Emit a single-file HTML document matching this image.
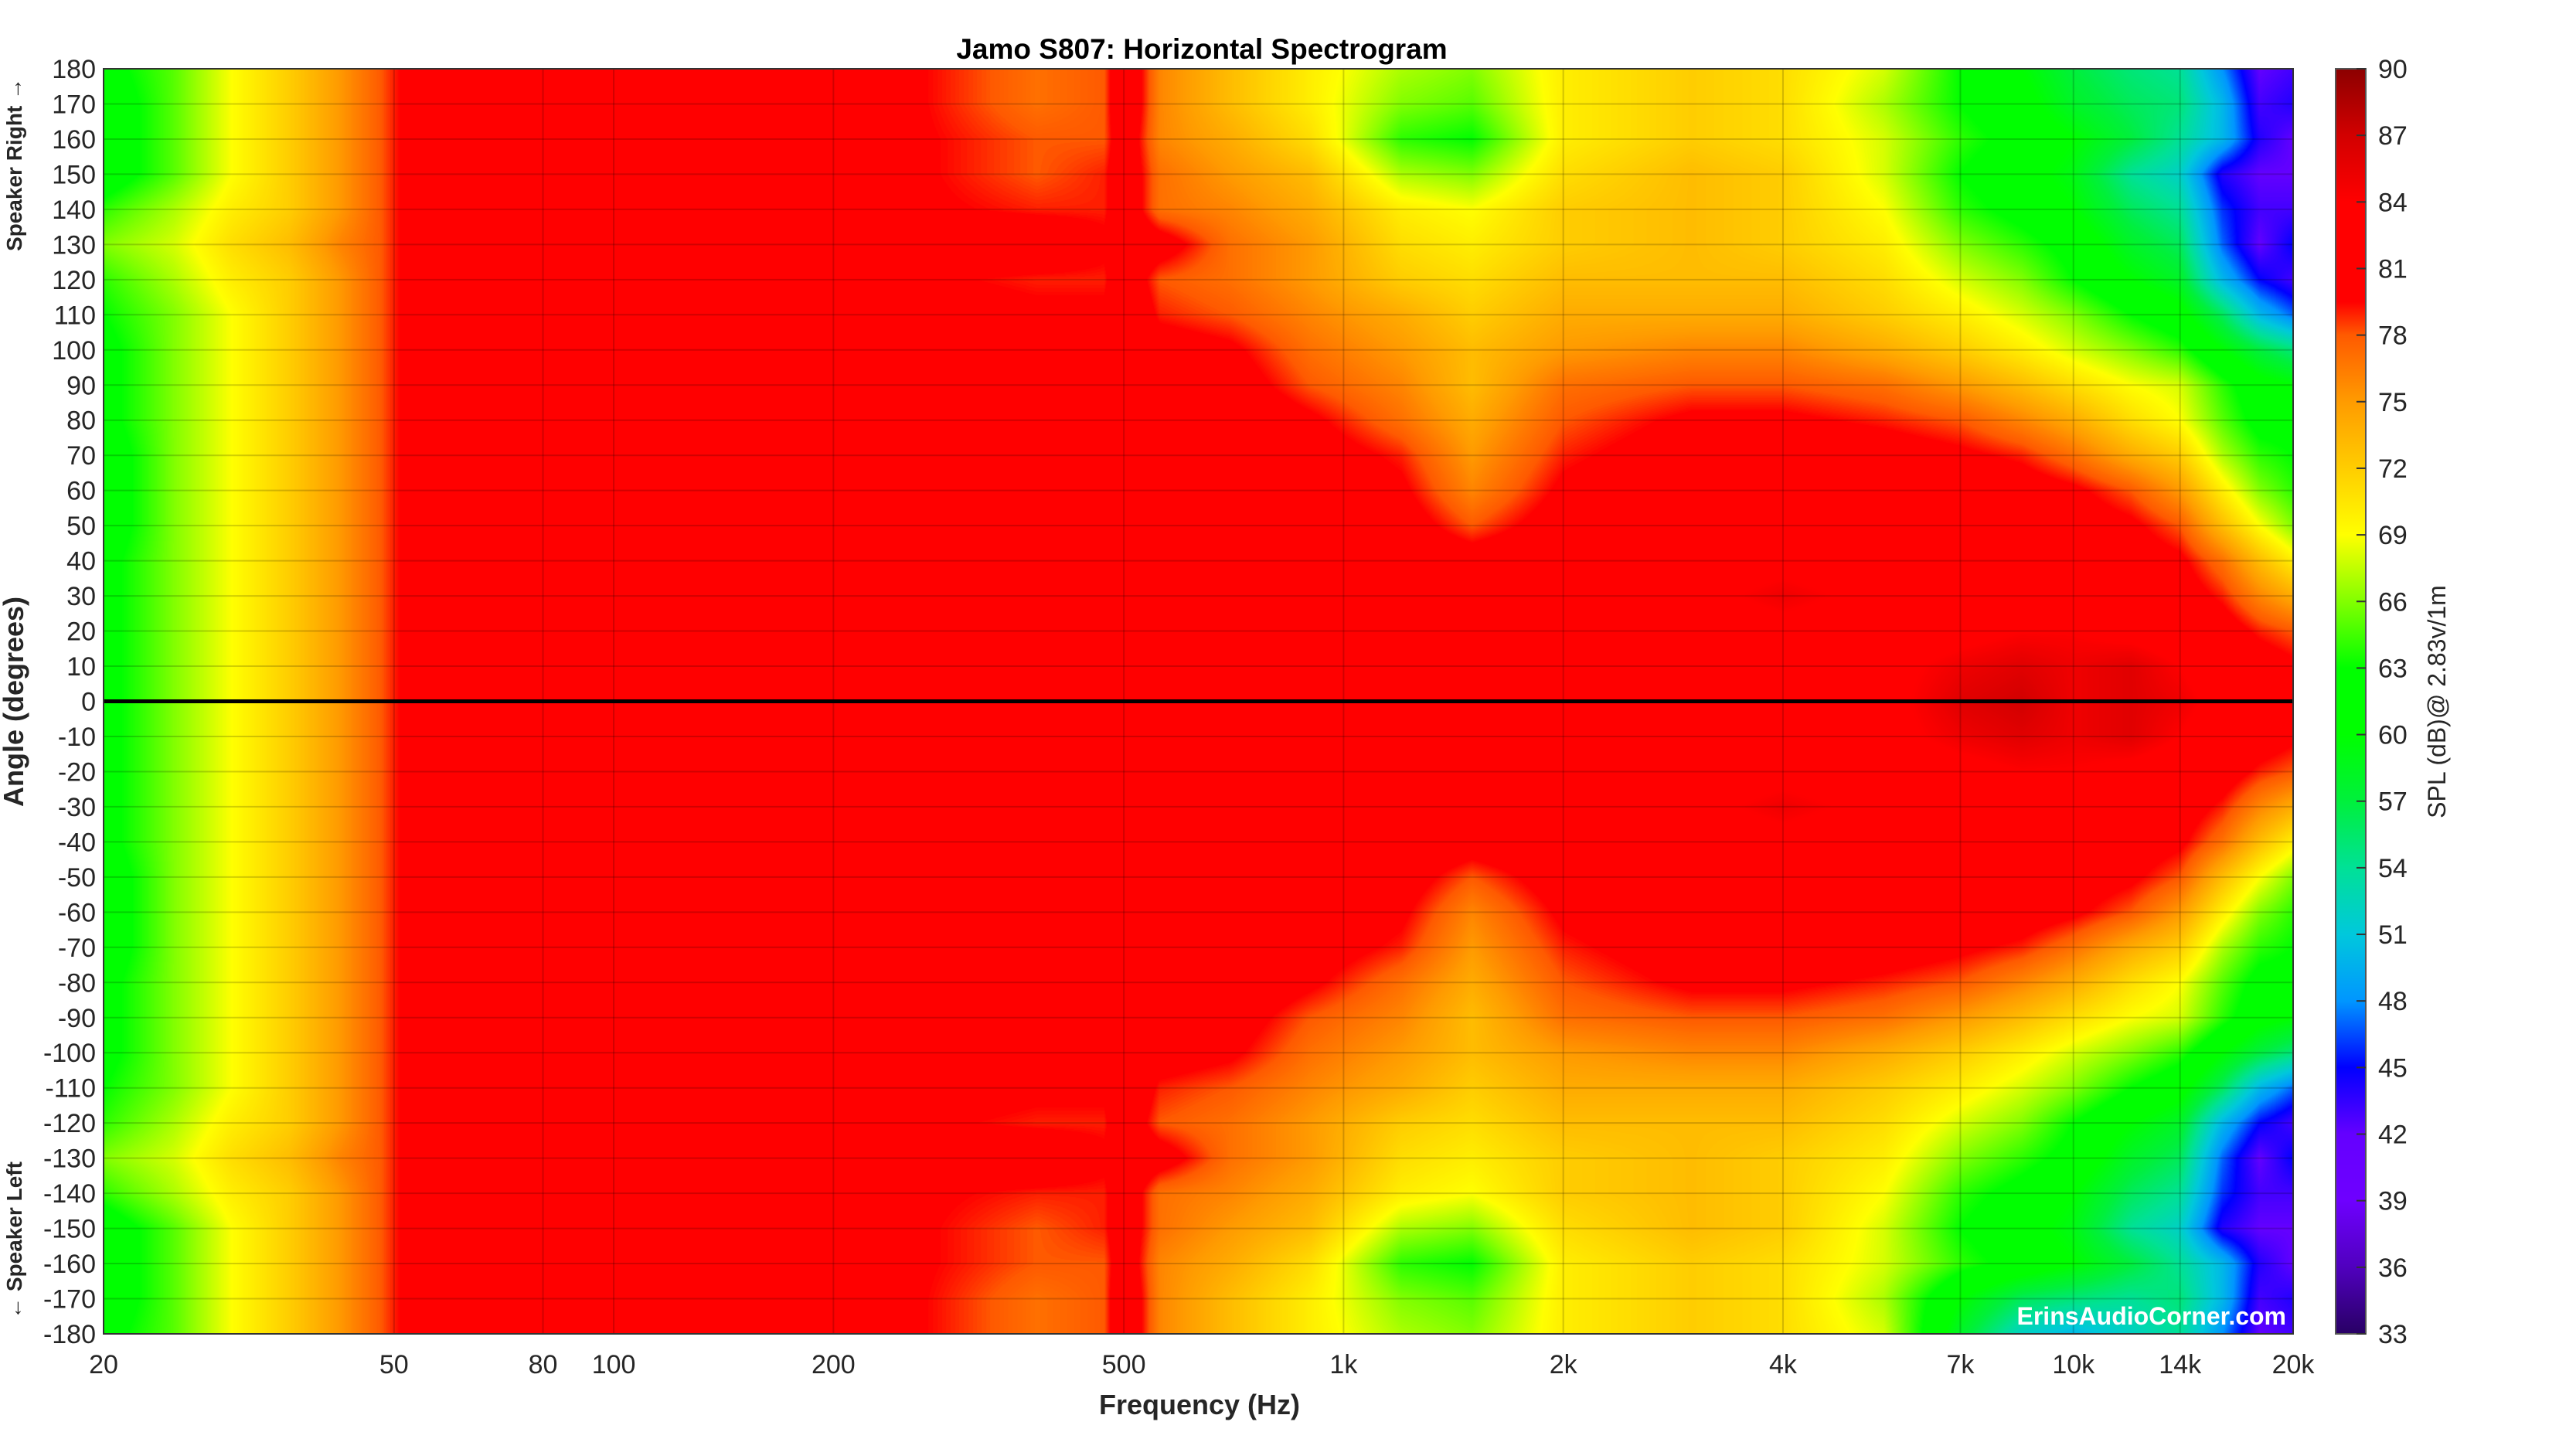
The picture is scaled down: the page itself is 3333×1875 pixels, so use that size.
<!DOCTYPE html>
<html><head><meta charset="utf-8"><style>
html,body{margin:0;padding:0;background:#fff;}
#wrap{position:relative;width:3333px;height:1875px;overflow:hidden;font-family:"Liberation Sans",sans-serif;}
#heat{position:absolute;left:134px;top:89px;}
#ov{position:absolute;left:0;top:0;}
</style></head><body>
<div id="wrap">
<canvas id="heat" width="2833" height="1637"></canvas>
<svg id="ov" width="3333" height="1875">
<defs><linearGradient id="cbg" x1="0" y1="1" x2="0" y2="0"></linearGradient></defs>
<g id="grid"></g>
<line id="zero" stroke="#000" stroke-width="5"/>
<rect x="134" y="89" width="2833" height="1637" fill="none" stroke="#333" stroke-width="2"/>
<text x="1555" y="76" text-anchor="middle" font-size="37" font-weight="bold">Jamo S807: Horizontal Spectrogram</text>
<g id="yt" font-size="34" fill="#262626" text-anchor="end"></g>
<g id="xt" font-size="34" fill="#262626" text-anchor="middle"></g>
<text x="1552" y="1830" text-anchor="middle" font-size="36" font-weight="bold" fill="#262626">Frequency (Hz)</text>
<text transform="translate(30,908) rotate(-90)" text-anchor="middle" font-size="36" font-weight="bold" fill="#262626">Angle (degrees)</text>
<text transform="translate(28,213) rotate(-90)" text-anchor="middle" font-size="28" font-weight="bold" fill="#262626">Speaker Right →</text>
<text transform="translate(28,1605) rotate(-90)" text-anchor="middle" font-size="28" font-weight="bold" fill="#262626">← Speaker Left</text>
<text x="2958" y="1714" text-anchor="end" font-size="32" font-weight="bold" fill="#fff">ErinsAudioCorner.com</text>
<rect x="3022" y="89" width="39" height="1637" fill="url(#cbg)" stroke="#555" stroke-width="2"/>
<g id="ct" font-size="34" fill="#262626"></g>
<text transform="translate(3164,908) rotate(-90)" text-anchor="middle" font-size="32" fill="#262626">SPL (dB)@ 2.83v/1m</text>
</svg>
</div>
<script>
const freqs=[20,25,30,36,42,48,52,60,90,150,250,380,470,500,560,700,900,1200,1500,2000,3000,4000,5500,7000,8500,10000,12000,14000,16000,18000,20000];
const angles=[180,170,160,150,140,130,120,110,100,90,80,70,60,50,40,30,20,10,0,-10,-20,-30,-40,-50,-60,-70,-80,-90,-100,-110,-120,-130,-140,-150,-160,-170,-180];
const spl=[
[62,65,69,72,75,78,80,82,84,82,80,77,78,83,76,73,70,67,66,70,72,71,68,63,60,57,55,54,48,42,43],
[61,65,69,72,75,78,80,82,84,82,80,77,78,83,76,73,70,66,65,70,72,71,67,63,61,58,56,55,50,43,44],
[61,65,69,72,75,78,80,82,84,82,80,78,78,82,76,74,71,64,63,70,72,71,68,64,62,60,57,54,50,44,42],
[61,65,69,72,75,78,80,82,84,82,80,78,79,82,77,75,73,67,66,71,73,72,68,63,61,59,54,52,44,42,42],
[64,67,70,72,75,78,80,82,84,82,80,79,79,82,77,76,74,70,69,72,73,72,69,64,62,60,56,54,46,43,43],
[66,68,71,73,76,78,80,82,84,82,82,82,80,82,81,77,75,71,70,72,73,72,70,66,64,62,58,56,47,42,45],
[64,67,70,72,75,78,80,82,84,82,80,79,79,82,78,77,75,72,71,73,73,73,71,68,66,63,60,58,50,45,43],
[63,66,69,72,75,78,80,82,84,82,81,80,80,83,79,78,76,74,72,74,74,74,72,70,68,66,63,61,56,50,47],
[62,66,69,72,75,78,80,82,84,82,82,81,81,83,81,80,77,75,73,75,76,76,74,72,70,68,66,64,60,57,55],
[62,66,69,72,75,78,80,82,84,82,82,82,82,83,82,81,78,76,73,77,78,78,77,75,73,71,69,68,64,61,60],
[62,66,69,72,75,78,80,82,84,82,82,82,82,82,82,82,80,77,74,78,80,80,79,78,76,74,71,69,65,62,62],
[61,66,69,72,75,78,80,82,84,82,82,82,82,82,82,82,81,79,75,79,81,82,81,80,79,77,74,72,67,64,63],
[61,66,69,72,75,78,80,82,84,82,82,82,82,82,82,82,82,80,76,80,82,82,82,82,81,80,78,75,70,66,64],
[61,66,69,72,75,78,80,82,84,82,82,82,82,82,82,82,82,81,78,81,82,82,82,82,82,81,80,78,73,69,66],
[62,66,69,72,75,78,80,82,84,82,82,82,82,82,82,82,82,82,81,82,82,83,82,82,82,82,81,80,77,73,70],
[62,66,69,72,75,78,80,82,84,82,82,82,82,82,82,82,82,82,82,82,83,85,83,82,82,82,82,81,79,76,74],
[62,66,69,72,75,78,80,82,84,82,82,82,82,82,82,82,82,82,82,82,82,83,82,83,84,84,83,82,81,79,78],
[62,66,69,72,75,78,80,82,84,82,82,82,82,82,82,82,82,82,82,83,83,83,83,85,86,85,86,84,82,81,80],
[62,66,69,72,75,78,80,82,84,82,82,82,82,82,82,82,82,82,82,83,84,83,83,86,87,85,86,85,83,82,81],
[62,66,69,72,75,78,80,82,84,82,82,82,82,82,82,82,82,82,82,83,83,83,83,85,86,85,86,84,82,81,80],
[62,66,69,72,75,78,80,82,84,82,82,82,82,82,82,82,82,82,82,82,82,83,82,83,84,84,83,82,81,79,78],
[62,66,69,72,75,78,80,82,84,82,82,82,82,82,82,82,82,82,82,82,83,85,83,82,82,82,82,81,79,76,74],
[62,66,69,72,75,78,80,82,84,82,82,82,82,82,82,82,82,82,81,82,82,83,82,82,82,82,81,80,77,73,70],
[61,66,69,72,75,78,80,82,84,82,82,82,82,82,82,82,82,81,78,81,82,82,82,82,82,81,80,78,73,69,66],
[61,66,69,72,75,78,80,82,84,82,82,82,82,82,82,82,82,80,76,80,82,82,82,82,81,80,78,75,70,66,64],
[61,66,69,72,75,78,80,82,84,82,82,82,82,82,82,82,81,79,75,79,81,82,81,80,79,77,74,72,67,64,63],
[62,66,69,72,75,78,80,82,84,82,82,82,82,82,82,82,80,77,74,78,80,80,79,78,76,74,71,69,65,62,62],
[62,66,69,72,75,78,80,82,84,82,82,82,82,83,82,81,78,76,73,77,78,78,77,75,73,71,69,68,64,61,60],
[62,66,69,72,75,78,80,82,84,82,82,81,81,83,81,80,77,75,73,75,76,76,74,72,70,68,66,64,60,57,55],
[63,66,69,72,75,78,80,82,84,82,81,80,80,83,79,78,76,74,72,74,74,74,72,70,68,66,63,61,56,50,47],
[64,67,70,72,75,78,80,82,84,82,80,79,79,82,78,77,75,72,71,73,73,73,71,68,66,63,60,58,50,45,43],
[66,68,71,73,76,78,80,82,84,82,82,82,80,82,81,77,75,71,70,72,73,72,70,66,64,62,58,56,47,42,45],
[64,67,70,72,75,78,80,82,84,82,80,79,79,82,77,76,74,70,69,72,73,72,69,64,62,60,56,54,46,43,43],
[61,65,69,72,75,78,80,82,84,82,80,78,79,82,77,75,73,67,66,71,73,72,68,63,61,59,54,52,44,42,42],
[61,65,69,72,75,78,80,82,84,82,80,78,78,82,76,74,71,64,63,70,72,71,68,64,62,60,57,54,50,44,42],
[61,65,69,72,75,78,80,82,84,82,80,77,78,83,76,73,70,66,65,70,72,71,67,60,56,55,54,55,50,43,44],
[62,65,69,72,75,78,80,82,84,82,80,77,78,83,76,73,70,67,66,70,72,71,68,58,52,50,52,54,48,42,43]
];
const xTickVals=[20,50,80,100,200,500,1000,2000,4000,7000,10000,14000,20000];
const xTickLabels=["20","50","80","100","200","500","1k","2k","4k","7k","10k","14k","20k"];
const yTickVals=[180,170,160,150,140,130,120,110,100,90,80,70,60,50,40,30,20,10,0,-10,-20,-30,-40,-50,-60,-70,-80,-90,-100,-110,-120,-130,-140,-150,-160,-170,-180];
const cbTicks=[33,36,39,42,45,48,51,54,57,60,63,66,69,72,75,78,81,84,87,90];
const cmapVals=[33,36,39,42,45,48,51,54,57,60,63,66,69,72,75,78,79.5,84,87,90];
const cmapCols=[[40,0,100],[80,0,190],[110,0,255],[100,0,255],[0,0,255],[0,150,255],[0,200,220],[0,225,150],[0,240,60],[0,255,0],[0,255,0],[130,255,0],[255,255,0],[255,205,0],[255,155,0],[255,90,0],[255,0,0],[255,0,0],[210,0,0],[140,0,0]];

const PL=134,PT=89,PW=2833,PH=1637,CBL=3022,CBW=39;
const xs=f=>PL+PW*Math.log(f/20)/Math.log(1000);
const ys=a=>PT+PH*(180-a)/360;
const cys=v=>PT+PH*(90-v)/57;
function cmap(v){
  if(v<=cmapVals[0])return cmapCols[0];
  for(let i=1;i<cmapVals.length;i++){
    if(v<=cmapVals[i]){const t=(v-cmapVals[i-1])/(cmapVals[i]-cmapVals[i-1]);const a=cmapCols[i-1],b=cmapCols[i];return [a[0]+(b[0]-a[0])*t,a[1]+(b[1]-a[1])*t,a[2]+(b[2]-a[2])*t];}
  }
  return cmapCols[cmapCols.length-1];
}
(function(){
  const cv=document.getElementById('heat');const ctx=cv.getContext('2d');
  const img=ctx.createImageData(PW,PH);const d=img.data;
  const lf=freqs.map(f=>Math.log(f));
  const xi=new Int32Array(PW),xf=new Float32Array(PW);
  for(let x=0;x<PW;x++){const l=Math.log(20)+(x+0.5)/PW*Math.log(1000);let i=0;while(i<lf.length-2&&l>lf[i+1])i++;xi[x]=i;xf[x]=Math.min(1,Math.max(0,(l-lf[i])/(lf[i+1]-lf[i])));}
  const yi=new Int32Array(PH),yf=new Float32Array(PH);
  for(let y=0;y<PH;y++){const a=180-(y+0.5)/PH*360;let i=0;while(i<angles.length-2&&a<angles[i+1])i++;yi[y]=i;yf[y]=Math.min(1,Math.max(0,(angles[i]-a)/(angles[i]-angles[i+1])));}
  const lut=[];for(let k=0;k<=600;k++)lut.push(cmap(33+k*0.1));
  for(let y=0;y<PH;y++){const r0=spl[yi[y]],r1=spl[yi[y]+1],ty=yf[y];
    for(let x=0;x<PW;x++){const i=xi[x],t=xf[x];
      const v0=r0[i]+(r0[i+1]-r0[i])*t,v1=r1[i]+(r1[i+1]-r1[i])*t;const v=v0+(v1-v0)*ty;
      let k=Math.round((v-33)*10);if(k<0)k=0;if(k>570)k=570;const c=lut[k];const p=(y*PW+x)*4;
      d[p]=c[0];d[p+1]=c[1];d[p+2]=c[2];d[p+3]=255;}}
  ctx.putImageData(img,0,0);
})();
const NS='http://www.w3.org/2000/svg';
const grid=document.getElementById('grid');
yTickVals.forEach(a=>{
  const l=document.createElementNS(NS,'line');
  
  
  l.setAttribute('x1',PL);l.setAttribute('x2',PL+PW);l.setAttribute('y1',ys(a));l.setAttribute('y2',ys(a));
  l.setAttribute('stroke','rgba(0,0,0,0.18)');l.setAttribute('stroke-width','2');grid.appendChild(l);
  const t=document.createElementNS(NS,'text');
  
  
  t.setAttribute('x',PL-10);t.setAttribute('y',ys(a)+12);t.textContent=a;document.getElementById('yt').appendChild(t);
});
xTickVals.forEach((f,i)=>{
  const l=document.createElementNS(NS,'line');
  
  
  l.setAttribute('x1',xs(f));l.setAttribute('x2',xs(f));l.setAttribute('y1',PT);l.setAttribute('y2',PT+PH);
  l.setAttribute('stroke','rgba(0,0,0,0.18)');l.setAttribute('stroke-width','2');grid.appendChild(l);
  const t=document.createElementNS(NS,'text');
  
  
  t.setAttribute('x',xs(f));t.setAttribute('y',1777);t.textContent=xTickLabels[i];document.getElementById('xt').appendChild(t);
});
const z=document.getElementById('zero');
z.setAttribute('x1',PL);z.setAttribute('x2',PL+PW);z.setAttribute('y1',ys(0));z.setAttribute('y2',ys(0));
const g=document.getElementById('cbg');
cmapVals.forEach((v,i)=>{const s=document.createElementNS(NS,'stop');s.setAttribute('offset',(v-33)/57);const c=cmapCols[i];s.setAttribute('stop-color','rgb('+c.join(',')+')');g.appendChild(s);});
cbTicks.forEach(v=>{
  const l=document.createElementNS(NS,'line');
  
  
  l.setAttribute('x1',CBL+CBW-12);l.setAttribute('x2',CBL+CBW);l.setAttribute('y1',cys(v));l.setAttribute('y2',cys(v));
  l.setAttribute('stroke','#333');l.setAttribute('stroke-width','2');document.getElementById('ct').appendChild(l);
  const t=document.createElementNS(NS,'text');
  
  
  t.setAttribute('x',CBL+CBW+16);t.setAttribute('y',cys(v)+12);t.textContent=v;document.getElementById('ct').appendChild(t);
});
</script>
</body></html>
